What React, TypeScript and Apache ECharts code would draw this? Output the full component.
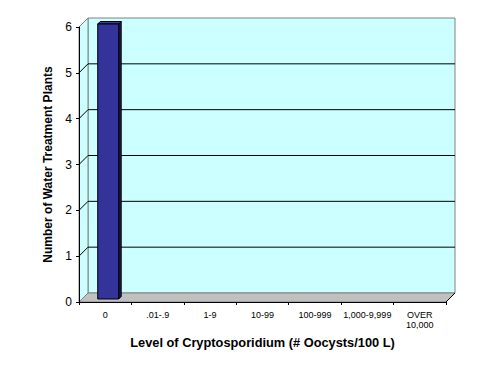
import React, { useEffect, useRef } from "react";
import * as echarts from "echarts";

const categories = ["0", ".01-.9", "1-9", "10-99", "100-999", "1,000-9,999", "OVER\n10,000"];
const plantCounts = [6, 0, 0, 0, 0, 0, 0];
const yTicks = [0, 1, 2, 3, 4, 5, 6];
const yMin = 0;
const yMax = 6;

const FONT = "'Liberation Sans', Arial, sans-serif";
const DEPTH = 9;
const BAR_FRONT = 3;
const BAR_BACK = 5.5;

export default function App() {
  const ref = useRef<HTMLDivElement>(null);
  useEffect(() => {
    if (!ref.current) return;
    const chart = echarts.init(ref.current, null, { renderer: "svg" });

    const wallRender = (params: any, api: any) => {
      const bw = api.size([1, 0])[0];
      const left = api.coord([0, yMin])[0] - bw / 2;
      const right = api.coord([categories.length - 1, yMin])[0] + bw / 2;
      const y0 = api.coord([0, yMin])[1];
      const yTop = api.coord([0, yMax])[1];
      const D = DEPTH;
      const children: any[] = [];
      children.push({
        type: "polygon",
        shape: { points: [[left + D, yTop - D], [right + D, yTop - D], [right + D, y0 - D], [left + D, y0 - D]] },
        style: { fill: "#ccffff", stroke: "#808080", lineWidth: 1 },
      });
      children.push({
        type: "polygon",
        shape: { points: [[left, yTop], [left + D, yTop - D], [left + D, y0 - D], [left, y0]] },
        style: { fill: "#ccffff", stroke: "#808080", lineWidth: 1 },
      });
      yTicks.forEach((v) => {
        if (v <= yMin || v >= yMax) return;
        const y = api.coord([0, v])[1];
        children.push({
          type: "polyline",
          shape: { points: [[left, y], [left + D, y - D], [right + D, y - D]] },
          style: { fill: null, stroke: "#000000", lineWidth: 1 },
        });
      });
      children.push({
        type: "polygon",
        shape: { points: [[left, y0], [right, y0], [right + D, y0 - D], [left + D, y0 - D]] },
        style: { fill: "#c0c0c0", stroke: "#808080", lineWidth: 1 },
      });
      children.push({
        type: "line",
        shape: { x1: right, y1: y0, x2: right + D, y2: y0 - D },
        style: { stroke: "#000000", lineWidth: 1 },
      });
      return { type: "group", children };
    };

    const barRender = (params: any, api: any) => {
      const idx = api.value(0);
      const val = api.value(1);
      if (!(val > 0)) return null;
      const base = api.coord([idx, yMin]);
      const top = api.coord([idx, val]);
      const w = api.size([1, 0])[0] * 0.4;
      const xl = base[0] - w / 2;
      const xr = base[0] + w / 2;
      const f = BAR_FRONT;
      const b = BAR_BACK;
      const edge = { stroke: "#000000", lineWidth: 1, lineJoin: "round" };
      return {
        type: "group",
        children: [
          {
            type: "polygon",
            shape: { points: [[xr + f, top[1] - f], [xr + b, top[1] - b], [xr + b, base[1] - b], [xr + f, base[1] - f]] },
            style: { fill: "#1c1c5a", ...edge },
          },
          {
            type: "polygon",
            shape: { points: [[xl + f, top[1] - f], [xl + b, top[1] - b], [xr + b, top[1] - b], [xr + f, top[1] - f]] },
            style: { fill: "#3a3aa6", ...edge },
          },
          {
            type: "polygon",
            shape: { points: [[xl + f, top[1] - f], [xr + f, top[1] - f], [xr + f, base[1] - f], [xl + f, base[1] - f]] },
            style: { fill: "#333399", ...edge },
          },
        ],
      };
    };

    chart.setOption({
      animation: false,
      backgroundColor: "#ffffff",
      grid: { left: 79, right: 45, top: 27, bottom: 72, containLabel: false },
      xAxis: {
        type: "category",
        data: categories,
        z: 5,
        axisLine: { show: true, lineStyle: { color: "#000000", width: 1 } },
        axisTick: { show: true, length: 3, alignWithLabel: false, lineStyle: { color: "#000000" } },
        axisLabel: { fontFamily: FONT, fontSize: 9, color: "#000000", margin: 8, lineHeight: 10, interval: 0 },
        splitLine: { show: false },
        name: "Level of Cryptosporidium (# Oocysts/100 L)",
        nameLocation: "middle",
        nameGap: 34,
        nameTextStyle: { fontFamily: FONT, fontSize: 12.8, fontWeight: "bold", color: "#000000" },
      },
      yAxis: {
        type: "value",
        min: yMin,
        max: yMax,
        interval: 1,
        z: 5,
        axisLine: { show: true, lineStyle: { color: "#000000", width: 1 } },
        axisTick: { show: true, length: 3, lineStyle: { color: "#000000" } },
        axisLabel: { fontFamily: FONT, fontSize: 12, color: "#000000", margin: 7 },
        splitLine: { show: false },
        name: "Number of Water Treatment Plants",
        nameLocation: "middle",
        nameGap: 25,
        nameTextStyle: { fontFamily: FONT, fontSize: 12, fontWeight: "bold", color: "#000000" },
      },
      series: [
        {
          type: "custom",
          name: "walls",
          renderItem: wallRender,
          data: [[0, 0]],
          z: 1,
          silent: true,
        },
        {
          type: "custom",
          name: "plants",
          renderItem: barRender,
          data: plantCounts.map((v, i) => [i, v]),
          z: 3,
        },
      ],
    });
    return () => chart.dispose();
  }, []);
  return (
    <div
      ref={ref}
      style={{ position: "fixed", left: 0, top: 0, width: 491, height: 374 }}
    />
  );
}
